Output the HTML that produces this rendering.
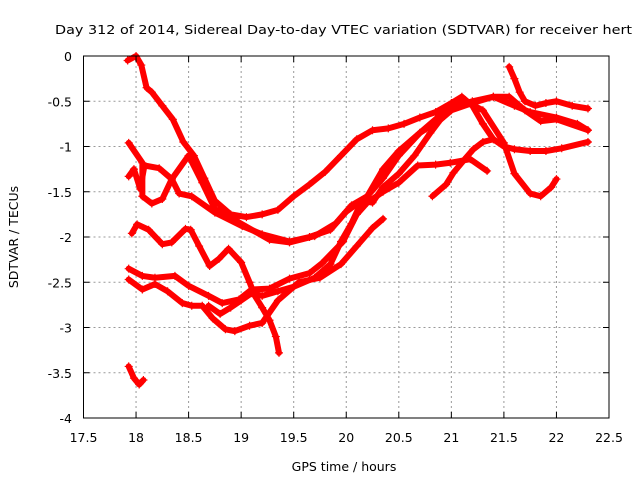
<!DOCTYPE html>
<html><head><meta charset="utf-8"><style>
body{margin:0;background:#fff;}
svg{display:block;font-family:"DejaVu Sans","Liberation Sans",sans-serif;}
</style></head><body>
<svg id="chart" width="640" height="480" viewBox="0 0 640 480">
<rect width="640" height="480" fill="#fff"/>
<text x="55" y="34" font-size="12.5" textLength="577" lengthAdjust="spacingAndGlyphs">Day 312 of 2014, Sidereal Day-to-day VTEC variation (SDTVAR) for receiver hert</text>
<text x="344" y="471" font-size="12.5" text-anchor="middle">GPS time / hours</text>
<text x="18" y="237" font-size="12.5" text-anchor="middle" transform="rotate(-90 18 237)">SDTVAR / TECUs</text>
<g id="grid"></g><g id="series"></g><g id="axes"></g>
</svg>
<script>
const xTicks=[17.5,18,18.5,19,19.5,20,20.5,21,21.5,22,22.5];
const yTicks=[0,-0.5,-1,-1.5,-2,-2.5,-3,-3.5,-4];
const s1t=[17.92,18.0,18.05,18.1,18.15,18.25,18.35,18.45,18.55,18.65,18.75,18.9,19.05,19.2,19.35,19.5,19.65,19.8,19.95,20.1,20.25,20.4,20.55,20.7,20.85,21.0,21.1,21.2,21.3,21.4,21.5,21.6,21.75,21.9,22.05,22.3];
const s1v=[-0.05,0.0,-0.1,-0.35,-0.4,-0.55,-0.7,-0.95,-1.1,-1.35,-1.6,-1.75,-1.78,-1.75,-1.7,-1.55,-1.42,-1.28,-1.1,-0.92,-0.82,-0.8,-0.75,-0.68,-0.62,-0.52,-0.45,-0.55,-0.75,-0.92,-1.0,-1.03,-1.05,-1.05,-1.02,-0.95];
const s2t=[17.93,18.06,18.06,18.15,18.25,18.34,18.5,18.63,18.75,18.98,19.27,19.46,19.7,19.9,20.05,20.2,20.35,20.5,20.7,20.9,21.05,21.2,21.4,21.6,21.75,22.0,22.2,22.3];
const s2v=[-0.96,-1.18,-1.55,-1.63,-1.58,-1.36,-1.1,-1.4,-1.69,-1.84,-2.03,-2.06,-1.99,-1.85,-1.65,-1.55,-1.35,-1.1,-0.85,-0.65,-0.55,-0.5,-0.45,-0.55,-0.62,-0.68,-0.75,-0.82];
const s3t=[17.93,17.98,18.04,18.08,18.22,18.34,18.41,18.53,18.75,19.01,19.2,19.46,19.65,19.85,20.0,20.2,20.35,20.5,20.7,20.9,21.0,21.2,21.4,21.55,21.7,21.85,22.0,22.3];
const s3v=[-1.33,-1.25,-1.47,-1.21,-1.24,-1.36,-1.52,-1.55,-1.73,-1.88,-1.97,-2.05,-2.0,-1.92,-1.72,-1.55,-1.25,-1.05,-0.85,-0.7,-0.6,-0.52,-0.45,-0.45,-0.6,-0.72,-0.7,-0.82];
const s4t=[17.96,18.01,18.12,18.25,18.34,18.47,18.52,18.6,18.7,18.79,18.88,19.0,19.08,19.13,19.2,19.27,19.33,19.36];
const s4v=[-1.96,-1.86,-1.92,-2.08,-2.06,-1.91,-1.92,-2.1,-2.32,-2.24,-2.13,-2.28,-2.5,-2.65,-2.78,-2.92,-3.1,-3.28];
const s5t=[17.93,18.06,18.18,18.37,18.5,18.69,18.82,18.98,19.1,19.27,19.46,19.65,19.77,19.97,20.1,20.2,20.35,20.5,20.68,20.85,20.99,21.18,21.34];
const s5v=[-2.35,-2.43,-2.45,-2.43,-2.54,-2.65,-2.73,-2.69,-2.58,-2.57,-2.46,-2.4,-2.29,-2.05,-1.75,-1.62,-1.5,-1.4,-1.21,-1.2,-1.18,-1.14,-1.27];
const s6t=[17.93,18.06,18.18,18.3,18.44,18.53,18.63,18.73,18.85,18.94,19.08,19.2,19.35,19.55,19.75,19.95,20.1,20.25,20.35];
const s6v=[-2.47,-2.58,-2.52,-2.6,-2.73,-2.76,-2.76,-2.9,-3.02,-3.04,-2.98,-2.95,-2.7,-2.5,-2.45,-2.3,-2.1,-1.9,-1.8];
const s7t=[18.69,18.8,18.9,19.0,19.1,19.2,19.35,19.5,19.7,19.85,19.95,20.05,20.15,20.25,20.35,20.5,20.65,20.8,20.95,21.1,21.3,21.5,21.6,21.75,21.85,21.95,22.0];
const s7v=[-2.76,-2.85,-2.78,-2.7,-2.62,-2.65,-2.6,-2.55,-2.45,-2.3,-2.05,-1.85,-1.6,-1.62,-1.45,-1.3,-1.1,-0.85,-0.62,-0.48,-0.6,-0.96,-1.3,-1.52,-1.55,-1.45,-1.36];
const s8t=[20.82,20.95,21.02,21.12,21.21,21.3,21.4];
const s8v=[-1.55,-1.42,-1.29,-1.15,-1.03,-0.95,-0.92];
const s9t=[21.55,21.6,21.65,21.7,21.8,21.9,22.0,22.15,22.3];
const s9v=[-0.12,-0.25,-0.4,-0.5,-0.55,-0.52,-0.5,-0.55,-0.58];
const s10t=[17.93,17.98,18.03,18.07];
const s10v=[-3.43,-3.56,-3.63,-3.58];
const allT=[s1t,s2t,s3t,s4t,s5t,s6t,s7t,s8t,s9t,s10t];
const allV=[s1v,s2v,s3v,s4v,s5v,s6v,s7v,s8v,s9v,s10v];

const X0=83.5,X1=609,Y0=56,Y1=418;
function xs(t){return X0+(t-17.5)/5*(X1-X0);}
function ys(v){return Y0+(0-v)/4*(Y1-Y0);}
const NS="http://www.w3.org/2000/svg";
function mk(tag,attrs,parent){const e=document.createElementNS(NS,tag);for(const k in attrs)e.setAttribute(k,attrs[k]);parent.appendChild(e);return e;}
const grid=document.getElementById('grid'),axes=document.getElementById('axes'),ser=document.getElementById('series');
xTicks.forEach(t=>{const x=xs(t);
 if(t>17.5&&t<22.5){const g=mk('line',{x1:x,x2:x,y1:Y0,y2:Y1,stroke:'#999','stroke-dasharray':'2,3'},grid);
 
 }
 mk('line',{x1:x,x2:x,y1:Y1,y2:Y1-6,stroke:'#000'},axes);
 mk('line',{x1:x,x2:x,y1:Y0,y2:Y0+6,stroke:'#000'},axes);
 const l=mk('text',{x:x,y:442,'font-size':12.5,'text-anchor':'middle'},axes);l.textContent=t;
 
 
});
yTicks.forEach(v=>{const y=ys(v);
 if(v<0&&v>-4){const g=mk('line',{x1:X0,x2:X1,y1:y,y2:y,stroke:'#999','stroke-dasharray':'2,3'},grid);
 
 }
 mk('line',{x1:X0,x2:X0+6,y1:y,y2:y,stroke:'#000'},axes);
 mk('line',{x1:X1,x2:X1-6,y1:y,y2:y,stroke:'#000'},axes);
 const l=mk('text',{x:72,y:y+5,'font-size':12.5,'text-anchor':'end'},axes);l.textContent=v;
 
 
});
const b=mk('rect',{x:X0,y:Y0,width:X1-X0,height:Y1-Y0,fill:'none',stroke:'#000'},axes);


allT.forEach((ts,i)=>{const vs=allV[i];
 const g=mk('g',{},ser);
 
 
 const pts=ts.map((t,j)=>xs(t)+','+ys(vs[j])).join(' ');
 mk('polyline',{points:pts,fill:'none',stroke:'#f00','stroke-width':6,'stroke-linejoin':'round','stroke-linecap':'round'},g);
 ts.forEach((t,j)=>{const x=xs(t),y=ys(vs[j]);
  const p=mk('path',{d:`M${x-4},${y}H${x+4}M${x},${y-4}V${y+4}`,stroke:'#f00','stroke-width':1.2},g);
  
  
 });
});
</script>
</body></html>
